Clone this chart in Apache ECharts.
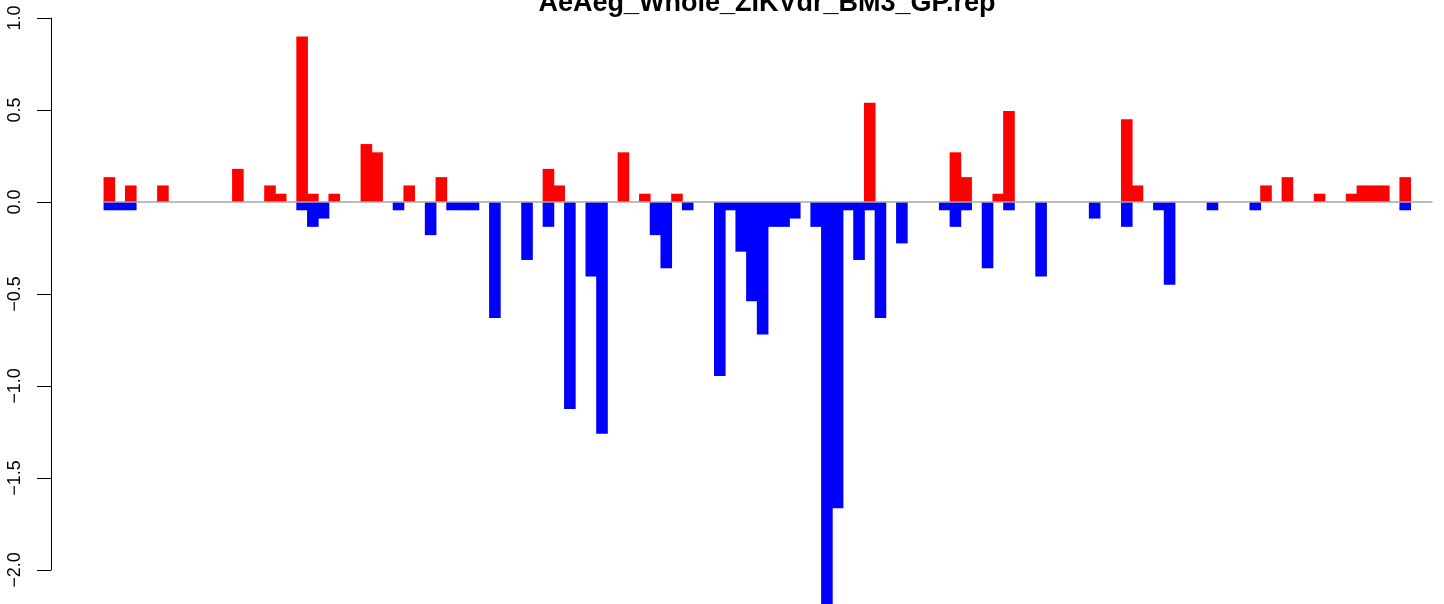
<!DOCTYPE html>
<html>
<head>
<meta charset="utf-8">
<script src="https://cdn.jsdelivr.net/npm/echarts@6/dist/echarts.min.js"></script>
<style>
html,body{margin:0;padding:0;background:#fff;}
#chart{width:1444px;height:604px;}
</style>
</head>
<body>
<div id="chart"></div>
<script>
const chartTitle = 'AeAeg_Whole_ZIKVdr_BM3_GP.rep';

// 124 positions (bars drawn edge to edge)
const categories = Array.from({length: 124}, (_, i) => String(i + 1));

const upValues = [
  0.135,0,0.09,0,0,0.09,0,0,0,0,
  0,0,0.18,0,0,0.09,0.045,0,0.9,0.045,
  0,0.045,0,0,0.315,0.27,0,0,0.09,0,
  0,0.135,0,0,0,0,0,0,0,0,
  0,0.18,0.09,0,0,0,0,0,0.27,0,
  0.045,0,0,0.045,0,0,0,0,0,0,
  0,0,0,0,0,0,0,0,0,0,
  0,0.54,0,0,0,0,0,0,0,0.27,
  0.135,0,0,0.045,0.495,0,0,0,0,0,
  0,0,0,0,0,0.45,0.09,0,0,0,
  0,0,0,0,0,0,0,0,0.09,0,
  0.135,0,0,0.045,0,0,0.045,0.09,0.09,0.09,
  0,0.135,0,0
];

const downValues = [
  -0.045,-0.045,-0.045,0,0,0,0,0,0,0,
  0,0,0,0,0,0,0,0,-0.045,-0.135,
  -0.09,0,0,0,0,0,0,-0.045,0,0,
  -0.18,0,-0.045,-0.045,-0.045,0,-0.63,0,0,-0.315,
  0,-0.135,0,-1.125,0,-0.405,-1.26,0,0,0,
  0,-0.18,-0.36,0,-0.045,0,0,-0.945,-0.045,-0.27,
  -0.54,-0.72,-0.135,-0.135,-0.09,0,-0.135,-2.2,-1.665,-0.045,
  -0.315,-0.045,-0.63,0,-0.225,0,0,0,-0.045,-0.135,
  -0.045,0,-0.36,0,-0.045,0,0,-0.405,0,0,
  0,0,-0.09,0,0,-0.135,0,0,-0.045,-0.45,
  0,0,0,-0.045,0,0,0,-0.045,0,0,
  0,0,0,0,0,0,0,0,0,0,
  0,-0.045,0,0
];

const yMin = -2.0, yMax = 1.0, yStep = 0.5;

const FONT = '"Liberation Sans", Arial, Helvetica, sans-serif';
const skipZero = arr => arr.map(v => (v === 0 ? '-' : v));

const chart = echarts.init(document.getElementById('chart'), null, {renderer: 'canvas'});

chart.setOption({
  backgroundColor: '#ffffff',
  animation: false,
  graphic: [{
    type: 'text',
    x: 767,
    y: 17.5,
    style: {
      text: chartTitle,
      fontFamily: FONT,
      fontSize: 27,
      fontWeight: 'bold',
      fill: '#000',
      align: 'center',
      verticalAlign: 'bottom'
    }
  }],
  grid: {left: 104, right: 12, top: 18, bottom: 34, containLabel: false},
  xAxis: {
    type: 'category',
    data: categories,
    z: 5,
    axisLine: {show: true, onZero: true, lineStyle: {color: '#a8a8a8', width: 1.5}},
    axisTick: {show: false},
    axisLabel: {show: false},
    splitLine: {show: false}
  },
  yAxis: {
    type: 'value',
    min: yMin, max: yMax, interval: yStep,
    offset: 53,
    axisLine: {show: true, lineStyle: {color: '#000', width: 1}},
    axisTick: {show: true, length: 14, inside: false, lineStyle: {color: '#000', width: 1}},
    splitLine: {show: false},
    axisLabel: {
      rotate: 90,
      margin: 27,
      fontSize: 18,
      fontFamily: FONT,
      color: '#000',
      formatter: v => (v < 0 ? '\u2212' : '') + Math.abs(v).toFixed(1)
    }
  },
  series: [
    {
      type: 'bar', name: 'up', data: skipZero(upValues),
      barWidth: 11.6, barGap: '-100%', clip: false,
      itemStyle: {color: '#ff0000'},
      silent: true
    },
    {
      type: 'bar', name: 'down', data: skipZero(downValues),
      barWidth: 11.6, barGap: '-100%', clip: false,
      itemStyle: {color: '#0000ff'},
      silent: true
    }
  ]
});
</script>
</body>
</html>
